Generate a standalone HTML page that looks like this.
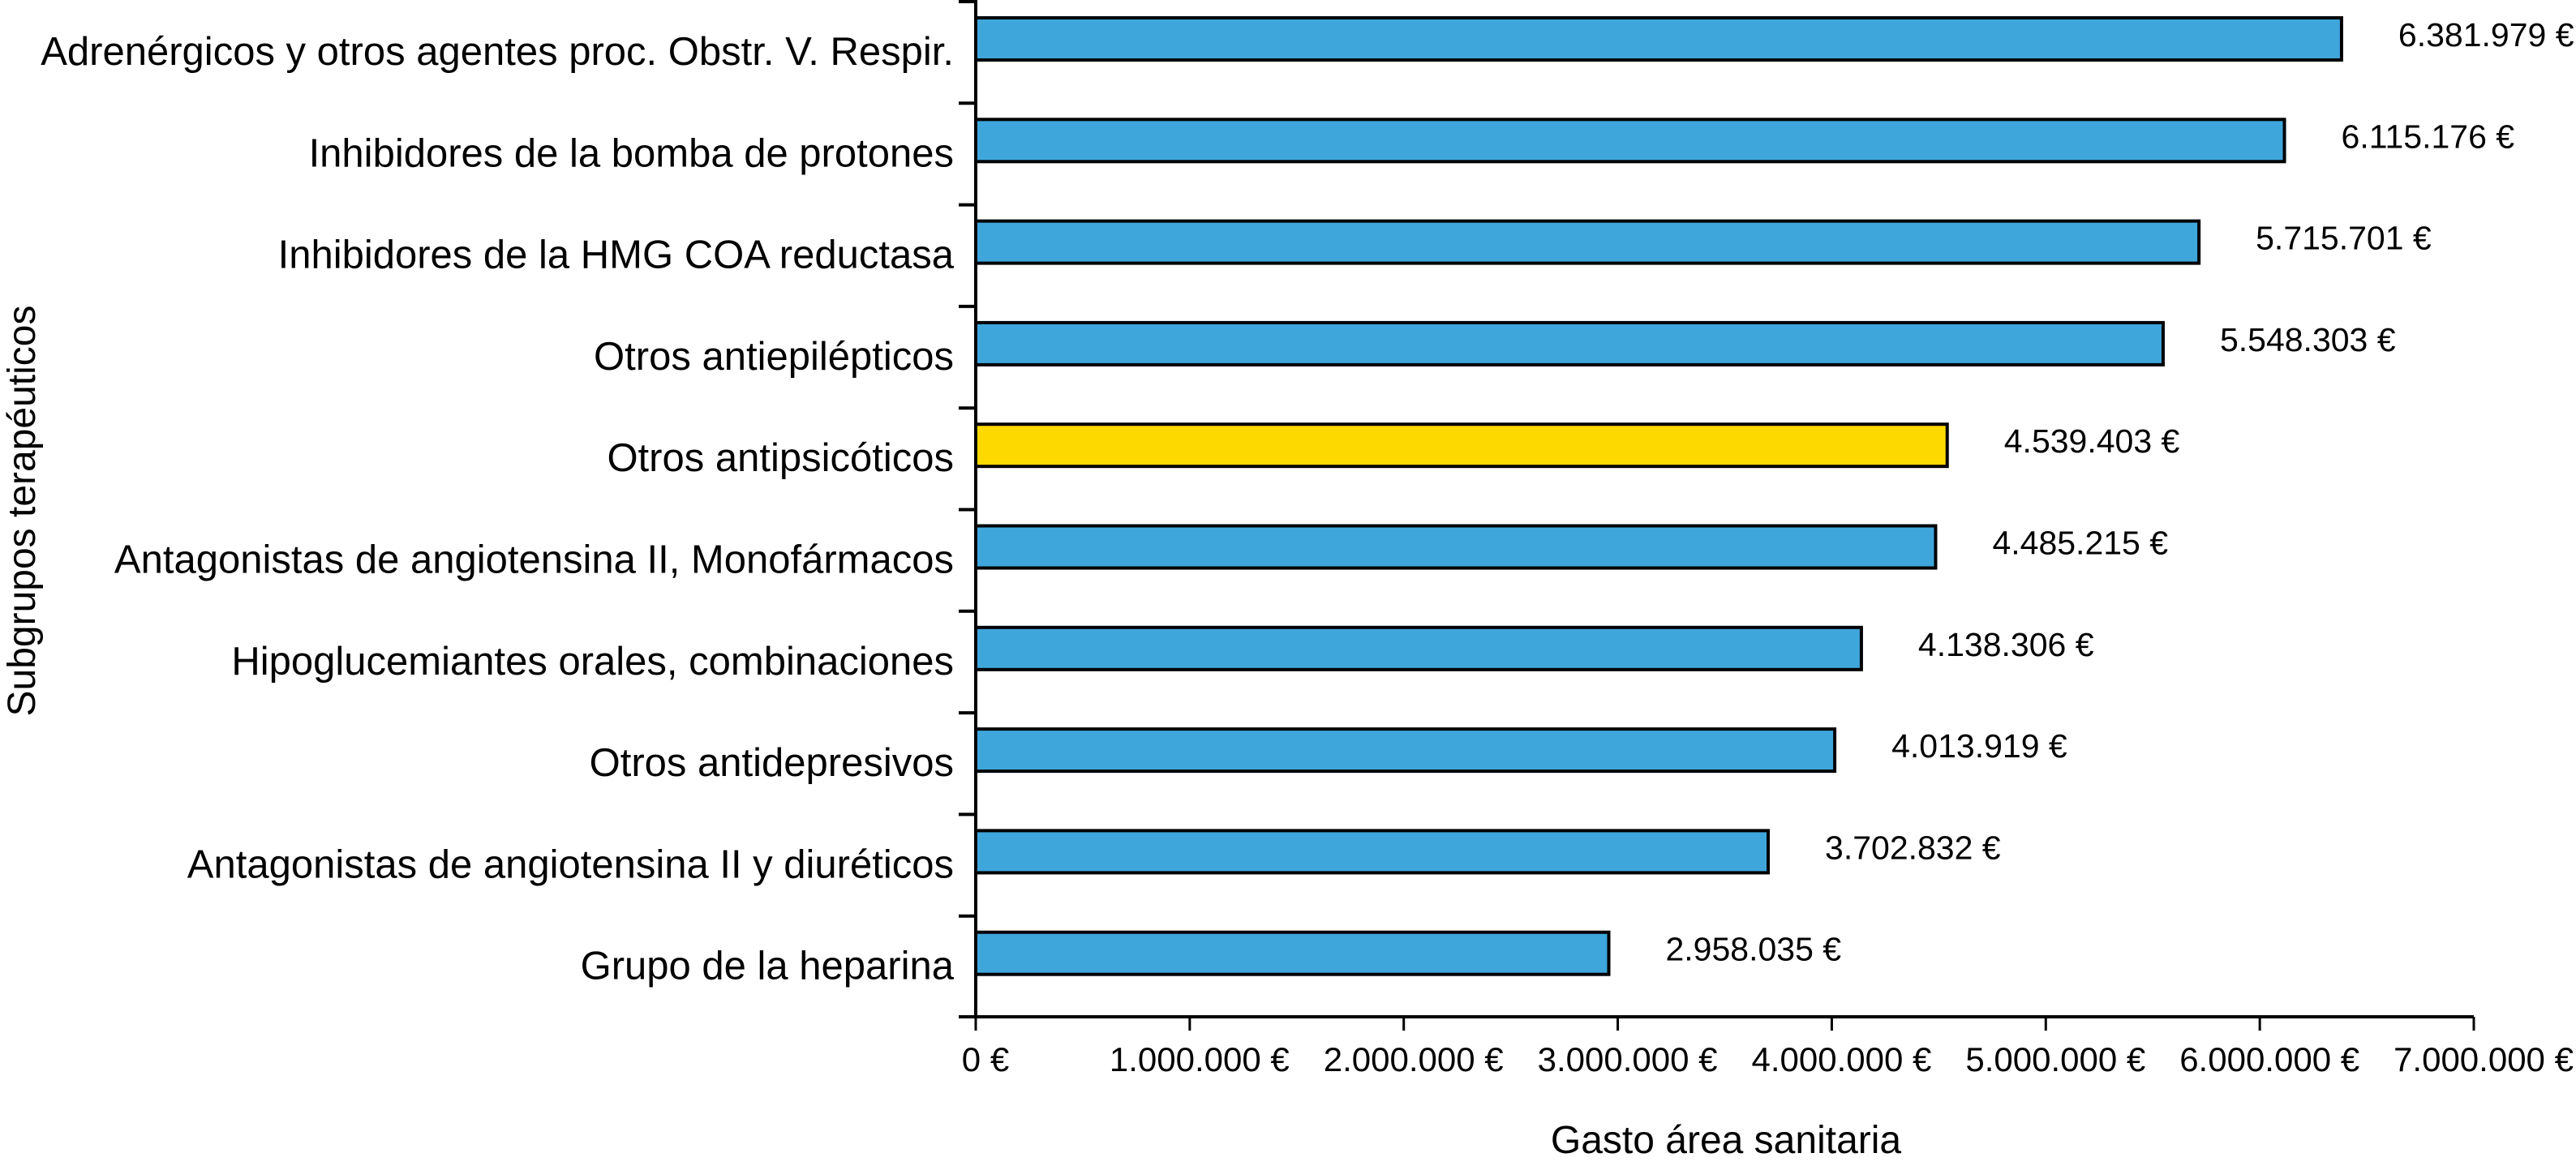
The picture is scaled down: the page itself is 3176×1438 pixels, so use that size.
<!DOCTYPE html>
<html><head><meta charset="utf-8"><style>
html,body{margin:0;padding:0;background:#fff;}
svg{display:block;font-family:"Liberation Sans",Arial,sans-serif;}
</style></head><body>
<svg id="chart" width="3176" height="1438" viewBox="0 0 3176 1438" xmlns="http://www.w3.org/2000/svg">
<g id="plot"></g>
<text x="2128" y="1422" font-size="48" text-anchor="middle">Gasto área sanitaria</text>
<text transform="translate(43,630) rotate(-90)" font-size="48" text-anchor="middle">Subgrupos terapéuticos</text>
</svg>
<script>
const categories = ["Adrenérgicos y otros agentes proc. Obstr. V. Respir.","Inhibidores de la bomba de protones","Inhibidores de la HMG COA reductasa","Otros antiepilépticos","Otros antipsicóticos","Antagonistas de angiotensina II, Monofármacos","Hipoglucemiantes orales, combinaciones","Otros antidepresivos","Antagonistas de angiotensina II  y diuréticos","Grupo de la heparina"];
const values = [6381979,6115176,5715701,5548303,4539403,4485215,4138306,4013919,3702832,2958035];
const valueLabels = ["6.381.979 €","6.115.176 €","5.715.701 €","5.548.303 €","4.539.403 €","4.485.215 €","4.138.306 €","4.013.919 €","3.702.832 €","2.958.035 €"];
const highlighted = [false,false,false,false,true,false,false,false,false,false];
const xTicks = [0,1000000,2000000,3000000,4000000,5000000,6000000,7000000];
const xTickLabels = ["0 €","1.000.000 €","2.000.000 €","3.000.000 €","4.000.000 €","5.000.000 €","6.000.000 €","7.000.000 €"];

const NS="http://www.w3.org/2000/svg";
const g=document.getElementById('plot');
const X0=1203, XMAX=3050, VMAX=7000000, AXY=1254, TOP=0, BAND=125.3, C0=48, BH=52;
const xs=v=>X0+(v/VMAX)*(XMAX-X0);
const yc=i=>C0+i*BAND;
function mk(t,a){const e=document.createElementNS(NS,t);for(const k in a)e.setAttribute(k,a[k]);g.appendChild(e);return e;}

categories.forEach((c,i)=>{
  const r=mk('rect',{x:X0,y:yc(i)-BH/2,width:xs(values[i])-X0,height:BH,fill:highlighted[i]?'#FDD900':'#3FA6DB',stroke:'#000','stroke-width':4});
  
  
  const t=mk('text',{x:X0-27,y:yc(i)+32,'font-size':49,'text-anchor':'end'});
  t.textContent=c;
  
  
  const v=mk('text',{x:xs(values[i])+70,y:yc(i)+9,'font-size':41});
  v.textContent=valueLabels[i];
  
  
  if(i>0){
    const tk=mk('line',{x1:X0-21,x2:X0,y1:yc(i)-46,y2:yc(i)-46,stroke:'#000','stroke-width':4});
    
    
  }
});
const ya=mk('line',{x1:X0,x2:X0,y1:TOP,y2:AXY,stroke:'#000','stroke-width':4});


const tk0=mk('line',{x1:X0-21,x2:X0,y1:2,y2:2,stroke:'#000','stroke-width':4});


const xa=mk('line',{x1:X0-21,x2:XMAX,y1:AXY,y2:AXY,stroke:'#000','stroke-width':4});


xTicks.forEach((v,i)=>{
  const l=mk('line',{x1:xs(v),x2:xs(v),y1:AXY,y2:AXY+17,stroke:'#000','stroke-width':3});
  
  
  const t=mk('text',{x:xs(v)+12,y:1321,'font-size':42,'text-anchor':'middle'});
  t.textContent=xTickLabels[i];
  
  
});
</script>
</body></html>
